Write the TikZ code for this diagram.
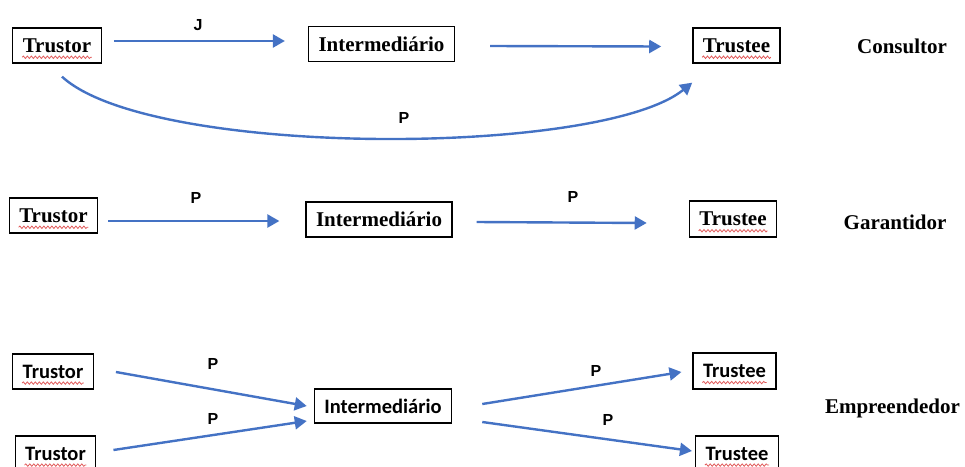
\documentclass[tikz,border=0pt]{standalone}
\usepackage{fontspec}
\setmainfont{Liberation Serif}
\newfontfamily\labfont{Liberation Sans}
\newfontfamily\calfont{Carlito}
\usetikzlibrary{arrows.meta,decorations.pathmorphing}
\definecolor{flowblue}{HTML}{4472C4}
\definecolor{spellred}{HTML}{E05A5A}
\tikzset{
  serifbox/.style={draw, line width=1.3pt, inner xsep=10pt, minimum height=35pt,
    font=\fontsize{21}{25}\selectfont\bfseries},
  sansbox/.style={draw, line width=1.3pt, inner xsep=10pt, minimum height=35pt,
    font=\calfont\fontsize{20.5}{24}\selectfont\bfseries},
  rowname/.style={font=\fontsize{21}{25}\selectfont\bfseries},
  flowlabel/.style={font=\labfont\fontsize{16}{19}\selectfont\bfseries},
  flowarrow/.style={draw=flowblue, line width=2.4pt,
    -{Triangle[length=12pt,width=13pt]}},
  squiggle/.style={draw=spellred, line width=0.8pt,
    decorate, decoration={snake, segment length=4pt, amplitude=1.2pt}}
}
% wavy underline below the word of a boxed node
\newcommand\spellmark[1]{%
  \draw[squiggle] ([shift={(10,5)}]#1.base west) -- ([shift={(-10,5)}]#1.base east);}
\begin{document}
\begin{tikzpicture}[x=1pt,y=-1pt]
  \useasboundingbox (0,0) rectangle (965,466);
  \clip (0,0) rectangle (965,466);

  % ---- Consultor ----
  \node[serifbox] (tr1) at (57,45.5) {Trustor};
  \node[serifbox] (in1) at (381.5,44) {Intermediário};
  \node[serifbox] (te1) at (736.5,45.5) {Trustee};
  \node[rowname] (r1) at (902,46) {Consultor};
  \spellmark{tr1}
  \spellmark{te1}
  \draw[flowarrow] ([shift={(12,-4.5)}]tr1.east) -- ([shift={(-23,-3)}]in1.west);
  \draw[flowarrow] ([shift={(35,2)}]in1.east) -- ([shift={(-31,1)}]te1.west);
  \draw[flowarrow] ([shift={(5,13)}]tr1.south)
    .. controls (150,158) and (600,157) .. ([shift={(0,19)}]te1.south west);
  \node[flowlabel] (l1) at (198,25) {J};
  \node[flowlabel] (l2) at (404,118) {P};

  % ---- Garantidor ----
  \node[serifbox] (tr2) at (53.5,215.5) {Trustor};
  \node[serifbox] (in2) at (379,219.5) {Intermediário};
  \node[serifbox, minimum height=36pt] (te2) at (733,219) {Trustee};
  \node[rowname] (r2) at (895,222) {Garantidor};
  \spellmark{tr2}
  \spellmark{te2}
  \draw[flowarrow] ([shift={(10,5.5)}]tr2.east) -- ([shift={(-26,1.5)}]in2.west);
  \draw[flowarrow] ([shift={(24,2.5)}]in2.east) -- ([shift={(-42,4)}]te2.west);
  \node[flowlabel] (l3) at (196,198) {P};
  \node[flowlabel] (l4) at (573,197) {P};

  % ---- Empreendedor ----
  \node[sansbox] (tr3) at (53,371.5) {Trustor};
  \node[sansbox] (tr4) at (55.5,453.5) {Trustor};
  \node[sansbox, minimum height=34pt] (in3) at (383,406) {Intermediário};
  \node[sansbox, minimum height=36pt] (te3) at (734.5,371) {Trustee};
  \node[sansbox] (te4) at (737,453.5) {Trustee};
  \node[rowname] (r3) at (892.5,408) {Empreendedor};
  \spellmark{tr3}
  \spellmark{tr4}
  \spellmark{te3}
  \spellmark{te4}
  \draw[flowarrow] ([shift={(22,0.5)}]tr3.east) -- ([shift={(-7,0)}]in3.west);
  \draw[flowarrow] ([shift={(17,-3.5)}]tr4.east) -- ([shift={(-7,15)}]in3.west);
  \draw[flowarrow] ([shift={(30,-2)}]in3.east) -- ([shift={(-11,1)}]te3.west);
  \draw[flowarrow] ([shift={(30,16)}]in3.east) -- ([shift={(-3,-2.5)}]te4.west);
  \node[flowlabel] (l5) at (213,364) {P};
  \node[flowlabel] (l6) at (213,419) {P};
  \node[flowlabel] (l7) at (596,371) {P};
  \node[flowlabel] (l8) at (608,420) {P};
\end{tikzpicture}
\end{document}
